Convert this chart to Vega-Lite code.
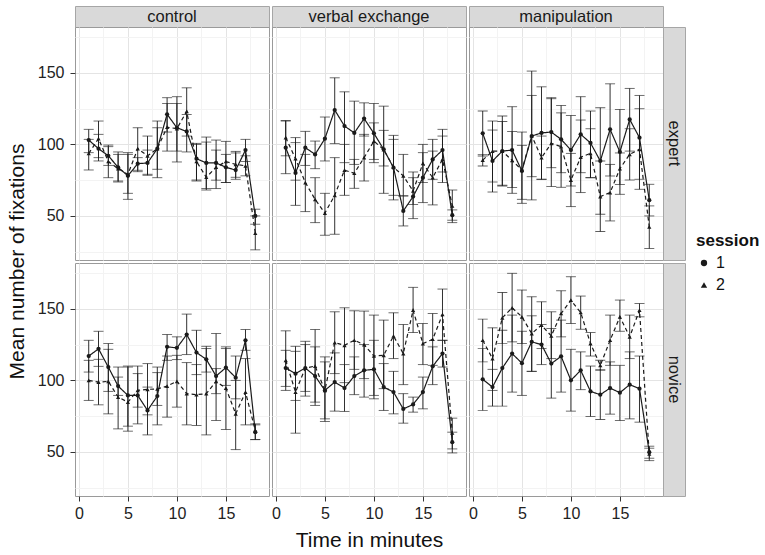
{
  "$schema": "https://vega.github.io/schema/vega-lite/v6.json",
  "background": "white",
  "padding": {"left": 5, "top": 5, "right": 5, "bottom": 5},
  "datasets": {
    "fixations": [
      {"cond":"control","level":"expert","session":"1","minute":1,"mean":103,"lo":94.2,"hi":110.5},
      {"cond":"control","level":"expert","session":"1","minute":2,"mean":97,"lo":88.4,"hi":107},
      {"cond":"control","level":"expert","session":"1","minute":3,"mean":92,"lo":85.3,"hi":98.4},
      {"cond":"control","level":"expert","session":"1","minute":4,"mean":84,"lo":74.4,"hi":93},
      {"cond":"control","level":"expert","session":"1","minute":5,"mean":78,"lo":65.8,"hi":94.2},
      {"cond":"control","level":"expert","session":"1","minute":6,"mean":86.5,"lo":80.9,"hi":90.7},
      {"cond":"control","level":"expert","session":"1","minute":7,"mean":87,"lo":78.4,"hi":96},
      {"cond":"control","level":"expert","session":"1","minute":8,"mean":97,"lo":82.6,"hi":111.6},
      {"cond":"control","level":"expert","session":"1","minute":9,"mean":121,"lo":108.6,"hi":132.6},
      {"cond":"control","level":"expert","session":"1","minute":10,"mean":111.6,"lo":87.7,"hi":133.3},
      {"cond":"control","level":"expert","session":"1","minute":11,"mean":109,"lo":94.7,"hi":120.9},
      {"cond":"control","level":"expert","session":"1","minute":12,"mean":90,"lo":74.4,"hi":100},
      {"cond":"control","level":"expert","session":"1","minute":13,"mean":87,"lo":69.1,"hi":105.1},
      {"cond":"control","level":"expert","session":"1","minute":14,"mean":87,"lo":69.1,"hi":103},
      {"cond":"control","level":"expert","session":"1","minute":15,"mean":84,"lo":73.3,"hi":93},
      {"cond":"control","level":"expert","session":"1","minute":16,"mean":82,"lo":75.6,"hi":95.1},
      {"cond":"control","level":"expert","session":"1","minute":17,"mean":96,"lo":88,"hi":103.5},
      {"cond":"control","level":"expert","session":"1","minute":18,"mean":50,"lo":44.2,"hi":54.7},
      {"cond":"control","level":"expert","session":"2","minute":1,"mean":93.7,"lo":82.1,"hi":103.5},
      {"cond":"control","level":"expert","session":"2","minute":2,"mean":104,"lo":90.7,"hi":116.3},
      {"cond":"control","level":"expert","session":"2","minute":3,"mean":88,"lo":76.7,"hi":99.5},
      {"cond":"control","level":"expert","session":"2","minute":4,"mean":83,"lo":73.7,"hi":94.7},
      {"cond":"control","level":"expert","session":"2","minute":5,"mean":79,"lo":61.6,"hi":93},
      {"cond":"control","level":"expert","session":"2","minute":6,"mean":97,"lo":81.9,"hi":111.6},
      {"cond":"control","level":"expert","session":"2","minute":7,"mean":92,"lo":79.1,"hi":105.8},
      {"cond":"control","level":"expert","session":"2","minute":8,"mean":97,"lo":76.7,"hi":116.3},
      {"cond":"control","level":"expert","session":"2","minute":9,"mean":112,"lo":95.3,"hi":128.6},
      {"cond":"control","level":"expert","session":"2","minute":10,"mean":111,"lo":95.3,"hi":128.6},
      {"cond":"control","level":"expert","session":"2","minute":11,"mean":123,"lo":105.8,"hi":139.5},
      {"cond":"control","level":"expert","session":"2","minute":12,"mean":88,"lo":75.1,"hi":100.7},
      {"cond":"control","level":"expert","session":"2","minute":13,"mean":77,"lo":68.1,"hi":101.6},
      {"cond":"control","level":"expert","session":"2","minute":14,"mean":84,"lo":75,"hi":96},
      {"cond":"control","level":"expert","session":"2","minute":15,"mean":88,"lo":73.3,"hi":102.1},
      {"cond":"control","level":"expert","session":"2","minute":16,"mean":86,"lo":77,"hi":94},
      {"cond":"control","level":"expert","session":"2","minute":17,"mean":85,"lo":78,"hi":92},
      {"cond":"control","level":"expert","session":"2","minute":18,"mean":38,"lo":26.3,"hi":50},
      {"cond":"verbal exchange","level":"expert","session":"1","minute":1,"mean":97.7,"lo":79.5,"hi":116.3},
      {"cond":"verbal exchange","level":"expert","session":"1","minute":2,"mean":80,"lo":57.4,"hi":101.2},
      {"cond":"verbal exchange","level":"expert","session":"1","minute":3,"mean":97.7,"lo":85.3,"hi":109.1},
      {"cond":"verbal exchange","level":"expert","session":"1","minute":4,"mean":93,"lo":83,"hi":102.3},
      {"cond":"verbal exchange","level":"expert","session":"1","minute":5,"mean":104,"lo":88.4,"hi":119.1},
      {"cond":"verbal exchange","level":"expert","session":"1","minute":6,"mean":124,"lo":100.5,"hi":146.5},
      {"cond":"verbal exchange","level":"expert","session":"1","minute":7,"mean":112.8,"lo":87.2,"hi":136.7},
      {"cond":"verbal exchange","level":"expert","session":"1","minute":8,"mean":108,"lo":86,"hi":130.2},
      {"cond":"verbal exchange","level":"expert","session":"1","minute":9,"mean":118,"lo":105.8,"hi":129},
      {"cond":"verbal exchange","level":"expert","session":"1","minute":10,"mean":107.7,"lo":87.2,"hi":128.6},
      {"cond":"verbal exchange","level":"expert","session":"1","minute":11,"mean":96.5,"lo":84.9,"hi":109.8},
      {"cond":"verbal exchange","level":"expert","session":"1","minute":12,"mean":83.7,"lo":64.4,"hi":103.5},
      {"cond":"verbal exchange","level":"expert","session":"1","minute":13,"mean":53.5,"lo":43,"hi":64},
      {"cond":"verbal exchange","level":"expert","session":"1","minute":14,"mean":63.5,"lo":48.1,"hi":80.7},
      {"cond":"verbal exchange","level":"expert","session":"1","minute":15,"mean":76.7,"lo":59.3,"hi":94.2},
      {"cond":"verbal exchange","level":"expert","session":"1","minute":16,"mean":89.5,"lo":75.6,"hi":103.5},
      {"cond":"verbal exchange","level":"expert","session":"1","minute":17,"mean":96,"lo":80.7,"hi":110.5},
      {"cond":"verbal exchange","level":"expert","session":"1","minute":18,"mean":50.5,"lo":47,"hi":54.2},
      {"cond":"verbal exchange","level":"expert","session":"2","minute":1,"mean":104.7,"lo":92,"hi":116.7},
      {"cond":"verbal exchange","level":"expert","session":"2","minute":2,"mean":90,"lo":75,"hi":104.7},
      {"cond":"verbal exchange","level":"expert","session":"2","minute":3,"mean":73.3,"lo":53,"hi":93},
      {"cond":"verbal exchange","level":"expert","session":"2","minute":4,"mean":61.6,"lo":45.3,"hi":76.7},
      {"cond":"verbal exchange","level":"expert","session":"2","minute":5,"mean":52,"lo":36.5,"hi":65.8},
      {"cond":"verbal exchange","level":"expert","session":"2","minute":6,"mean":64.4,"lo":37.2,"hi":90.7},
      {"cond":"verbal exchange","level":"expert","session":"2","minute":7,"mean":82,"lo":64.4,"hi":100},
      {"cond":"verbal exchange","level":"expert","session":"2","minute":8,"mean":79.8,"lo":69.3,"hi":89.5},
      {"cond":"verbal exchange","level":"expert","session":"2","minute":9,"mean":90.7,"lo":74.4,"hi":107},
      {"cond":"verbal exchange","level":"expert","session":"2","minute":10,"mean":102.3,"lo":89.5,"hi":115},
      {"cond":"verbal exchange","level":"expert","session":"2","minute":11,"mean":96.3,"lo":65.8,"hi":126.7},
      {"cond":"verbal exchange","level":"expert","session":"2","minute":12,"mean":84,"lo":61.2,"hi":106.3},
      {"cond":"verbal exchange","level":"expert","session":"2","minute":13,"mean":78,"lo":64,"hi":93},
      {"cond":"verbal exchange","level":"expert","session":"2","minute":14,"mean":67.4,"lo":58,"hi":76.7},
      {"cond":"verbal exchange","level":"expert","session":"2","minute":15,"mean":86.7,"lo":73.3,"hi":100},
      {"cond":"verbal exchange","level":"expert","session":"2","minute":16,"mean":76.7,"lo":57.7,"hi":95.3},
      {"cond":"verbal exchange","level":"expert","session":"2","minute":17,"mean":89.5,"lo":73.3,"hi":105.8},
      {"cond":"verbal exchange","level":"expert","session":"2","minute":18,"mean":57,"lo":45.3,"hi":68.1},
      {"cond":"manipulation","level":"expert","session":"1","minute":1,"mean":107.7,"lo":91.9,"hi":123.3},
      {"cond":"manipulation","level":"expert","session":"1","minute":2,"mean":88.4,"lo":66.7,"hi":110},
      {"cond":"manipulation","level":"expert","session":"1","minute":3,"mean":95.3,"lo":70.9,"hi":119.8},
      {"cond":"manipulation","level":"expert","session":"1","minute":4,"mean":96,"lo":65.8,"hi":126.3},
      {"cond":"manipulation","level":"expert","session":"1","minute":5,"mean":81.4,"lo":61.6,"hi":99.3},
      {"cond":"manipulation","level":"expert","session":"1","minute":6,"mean":105.8,"lo":77.4,"hi":134.2},
      {"cond":"manipulation","level":"expert","session":"1","minute":7,"mean":108,"lo":75.6,"hi":140.2},
      {"cond":"manipulation","level":"expert","session":"1","minute":8,"mean":108.6,"lo":83.7,"hi":132.6},
      {"cond":"manipulation","level":"expert","session":"1","minute":9,"mean":103.5,"lo":80.2,"hi":127.2},
      {"cond":"manipulation","level":"expert","session":"1","minute":10,"mean":96,"lo":70.9,"hi":120.2},
      {"cond":"manipulation","level":"expert","session":"1","minute":11,"mean":107,"lo":80.2,"hi":133.3},
      {"cond":"manipulation","level":"expert","session":"1","minute":12,"mean":101,"lo":76.7,"hi":123.3},
      {"cond":"manipulation","level":"expert","session":"1","minute":13,"mean":88.4,"lo":51.2,"hi":125.6},
      {"cond":"manipulation","level":"expert","session":"1","minute":14,"mean":110.5,"lo":77.9,"hi":142.3},
      {"cond":"manipulation","level":"expert","session":"1","minute":15,"mean":94.7,"lo":65.1,"hi":124.4},
      {"cond":"manipulation","level":"expert","session":"1","minute":16,"mean":117.4,"lo":95.3,"hi":139.1},
      {"cond":"manipulation","level":"expert","session":"1","minute":17,"mean":104.7,"lo":75.6,"hi":134.2},
      {"cond":"manipulation","level":"expert","session":"1","minute":18,"mean":61,"lo":50,"hi":72.1},
      {"cond":"manipulation","level":"expert","session":"2","minute":1,"mean":89,"lo":84.9,"hi":93},
      {"cond":"manipulation","level":"expert","session":"2","minute":2,"mean":95.3,"lo":73.7,"hi":116.3},
      {"cond":"manipulation","level":"expert","session":"2","minute":3,"mean":95.3,"lo":71.4,"hi":116},
      {"cond":"manipulation","level":"expert","session":"2","minute":4,"mean":88.8,"lo":69.8,"hi":109},
      {"cond":"manipulation","level":"expert","session":"2","minute":5,"mean":82,"lo":58.8,"hi":108.6},
      {"cond":"manipulation","level":"expert","session":"2","minute":6,"mean":106,"lo":61.2,"hi":151.2},
      {"cond":"manipulation","level":"expert","session":"2","minute":7,"mean":90.7,"lo":75.6,"hi":105.8},
      {"cond":"manipulation","level":"expert","session":"2","minute":8,"mean":100.7,"lo":70.5,"hi":131.9},
      {"cond":"manipulation","level":"expert","session":"2","minute":9,"mean":98.4,"lo":70,"hi":122},
      {"cond":"manipulation","level":"expert","session":"2","minute":10,"mean":75,"lo":56.5,"hi":93.7},
      {"cond":"manipulation","level":"expert","session":"2","minute":11,"mean":91,"lo":66.3,"hi":117},
      {"cond":"manipulation","level":"expert","session":"2","minute":12,"mean":93.7,"lo":76.7,"hi":110.9},
      {"cond":"manipulation","level":"expert","session":"2","minute":13,"mean":63.5,"lo":39.1,"hi":88.4},
      {"cond":"manipulation","level":"expert","session":"2","minute":14,"mean":66.3,"lo":46.5,"hi":86},
      {"cond":"manipulation","level":"expert","session":"2","minute":15,"mean":83,"lo":72,"hi":94},
      {"cond":"manipulation","level":"expert","session":"2","minute":16,"mean":93,"lo":75.1,"hi":110.9},
      {"cond":"manipulation","level":"expert","session":"2","minute":17,"mean":96.5,"lo":68.6,"hi":124.9},
      {"cond":"manipulation","level":"expert","session":"2","minute":18,"mean":42.3,"lo":27.2,"hi":57},
      {"cond":"control","level":"novice","session":"1","minute":1,"mean":117,"lo":105.8,"hi":128},
      {"cond":"control","level":"novice","session":"1","minute":2,"mean":122,"lo":109.8,"hi":134.3},
      {"cond":"control","level":"novice","session":"1","minute":3,"mean":109.3,"lo":92.3,"hi":125.7},
      {"cond":"control","level":"novice","session":"1","minute":4,"mean":96,"lo":89.5,"hi":102.3},
      {"cond":"control","level":"novice","session":"1","minute":5,"mean":89.5,"lo":68,"hi":110},
      {"cond":"control","level":"novice","session":"1","minute":6,"mean":89.5,"lo":69.6,"hi":110},
      {"cond":"control","level":"novice","session":"1","minute":7,"mean":79,"lo":61.9,"hi":95.3},
      {"cond":"control","level":"novice","session":"1","minute":8,"mean":89,"lo":68.9,"hi":109.3},
      {"cond":"control","level":"novice","session":"1","minute":9,"mean":123.4,"lo":114,"hi":132},
      {"cond":"control","level":"novice","session":"1","minute":10,"mean":122.7,"lo":114.5,"hi":130.4},
      {"cond":"control","level":"novice","session":"1","minute":11,"mean":132,"lo":118,"hi":146.3},
      {"cond":"control","level":"novice","session":"1","minute":12,"mean":119.4,"lo":104,"hi":135},
      {"cond":"control","level":"novice","session":"1","minute":13,"mean":114.7,"lo":105.8,"hi":123.8},
      {"cond":"control","level":"novice","session":"1","minute":14,"mean":103,"lo":72,"hi":132.7},
      {"cond":"control","level":"novice","session":"1","minute":15,"mean":108.9,"lo":96.5,"hi":122.2},
      {"cond":"control","level":"novice","session":"1","minute":16,"mean":101.9,"lo":87.1,"hi":117},
      {"cond":"control","level":"novice","session":"1","minute":17,"mean":128,"lo":121,"hi":135.5},
      {"cond":"control","level":"novice","session":"1","minute":18,"mean":63.8,"lo":58.6,"hi":68.9},
      {"cond":"control","level":"novice","session":"2","minute":1,"mean":100,"lo":86,"hi":114},
      {"cond":"control","level":"novice","session":"2","minute":2,"mean":98.8,"lo":82.9,"hi":114.7},
      {"cond":"control","level":"novice","session":"2","minute":3,"mean":99.3,"lo":76.6,"hi":121.7},
      {"cond":"control","level":"novice","session":"2","minute":4,"mean":88.3,"lo":66.1,"hi":109.3},
      {"cond":"control","level":"novice","session":"2","minute":5,"mean":84.8,"lo":64.5,"hi":109.3},
      {"cond":"control","level":"novice","session":"2","minute":6,"mean":93,"lo":81.3,"hi":104.7},
      {"cond":"control","level":"novice","session":"2","minute":7,"mean":93.7,"lo":75.9,"hi":111.7},
      {"cond":"control","level":"novice","session":"2","minute":8,"mean":94,"lo":82.5,"hi":105.4},
      {"cond":"control","level":"novice","session":"2","minute":9,"mean":96,"lo":74.3,"hi":117},
      {"cond":"control","level":"novice","session":"2","minute":10,"mean":99.3,"lo":81.3,"hi":117.5},
      {"cond":"control","level":"novice","session":"2","minute":11,"mean":90.7,"lo":68.9,"hi":112.4},
      {"cond":"control","level":"novice","session":"2","minute":12,"mean":90,"lo":68.5,"hi":111},
      {"cond":"control","level":"novice","session":"2","minute":13,"mean":90.7,"lo":61.9,"hi":122.2},
      {"cond":"control","level":"novice","session":"2","minute":14,"mean":99.3,"lo":90.7,"hi":108.2},
      {"cond":"control","level":"novice","session":"2","minute":15,"mean":94.6,"lo":65.7,"hi":123.4},
      {"cond":"control","level":"novice","session":"2","minute":16,"mean":76.6,"lo":51.6,"hi":100},
      {"cond":"control","level":"novice","session":"2","minute":17,"mean":91.8,"lo":68.9,"hi":115.2},
      {"cond":"control","level":"novice","session":"2","minute":18,"mean":65,"lo":58.6,"hi":69.6},
      {"cond":"verbal exchange","level":"novice","session":"1","minute":1,"mean":108.6,"lo":95.8,"hi":121},
      {"cond":"verbal exchange","level":"novice","session":"1","minute":2,"mean":104.7,"lo":86,"hi":123.8},
      {"cond":"verbal exchange","level":"novice","session":"1","minute":3,"mean":108.6,"lo":92.3,"hi":125},
      {"cond":"verbal exchange","level":"novice","session":"1","minute":4,"mean":103,"lo":82.5,"hi":123.4},
      {"cond":"verbal exchange","level":"novice","session":"1","minute":5,"mean":93,"lo":73.1,"hi":112.9},
      {"cond":"verbal exchange","level":"novice","session":"1","minute":6,"mean":98.8,"lo":78.5,"hi":119.2},
      {"cond":"verbal exchange","level":"novice","session":"1","minute":7,"mean":94.6,"lo":78.3,"hi":111},
      {"cond":"verbal exchange","level":"novice","session":"1","minute":8,"mean":103,"lo":90,"hi":116.4},
      {"cond":"verbal exchange","level":"novice","session":"1","minute":9,"mean":107,"lo":88.3,"hi":125},
      {"cond":"verbal exchange","level":"novice","session":"1","minute":10,"mean":107.7,"lo":87.1,"hi":128},
      {"cond":"verbal exchange","level":"novice","session":"1","minute":11,"mean":95.3,"lo":79,"hi":111.7},
      {"cond":"verbal exchange","level":"novice","session":"1","minute":12,"mean":91.8,"lo":76.6,"hi":106.3},
      {"cond":"verbal exchange","level":"novice","session":"1","minute":13,"mean":80,"lo":70.1,"hi":90.7},
      {"cond":"verbal exchange","level":"novice","session":"1","minute":14,"mean":83.2,"lo":77.8,"hi":88.3},
      {"cond":"verbal exchange","level":"novice","session":"1","minute":15,"mean":91.8,"lo":80.1,"hi":102.3},
      {"cond":"verbal exchange","level":"novice","session":"1","minute":16,"mean":109.8,"lo":97,"hi":123.4},
      {"cond":"verbal exchange","level":"novice","session":"1","minute":17,"mean":118.7,"lo":109.3,"hi":128},
      {"cond":"verbal exchange","level":"novice","session":"1","minute":18,"mean":56.8,"lo":49.3,"hi":63.8},
      {"cond":"verbal exchange","level":"novice","session":"2","minute":1,"mean":114,"lo":93,"hi":134.6},
      {"cond":"verbal exchange","level":"novice","session":"2","minute":2,"mean":91.8,"lo":63.1,"hi":120.3},
      {"cond":"verbal exchange","level":"novice","session":"2","minute":3,"mean":108.6,"lo":89,"hi":127.3},
      {"cond":"verbal exchange","level":"novice","session":"2","minute":4,"mean":110,"lo":84.8,"hi":135.5},
      {"cond":"verbal exchange","level":"novice","session":"2","minute":5,"mean":93,"lo":71.3,"hi":116.4},
      {"cond":"verbal exchange","level":"novice","session":"2","minute":6,"mean":126.4,"lo":104.7,"hi":147.9},
      {"cond":"verbal exchange","level":"novice","session":"2","minute":7,"mean":124.5,"lo":98.4,"hi":150.7},
      {"cond":"verbal exchange","level":"novice","session":"2","minute":8,"mean":128,"lo":107.7,"hi":148.6},
      {"cond":"verbal exchange","level":"novice","session":"2","minute":9,"mean":125,"lo":101.2,"hi":148.4},
      {"cond":"verbal exchange","level":"novice","session":"2","minute":10,"mean":117,"lo":89.5,"hi":145.6},
      {"cond":"verbal exchange","level":"novice","session":"2","minute":11,"mean":117.5,"lo":94.2,"hi":142.1},
      {"cond":"verbal exchange","level":"novice","session":"2","minute":12,"mean":131,"lo":115.2,"hi":147.2},
      {"cond":"verbal exchange","level":"novice","session":"2","minute":13,"mean":118.7,"lo":97,"hi":139},
      {"cond":"verbal exchange","level":"novice","session":"2","minute":14,"mean":149,"lo":133.4,"hi":165},
      {"cond":"verbal exchange","level":"novice","session":"2","minute":15,"mean":125.7,"lo":111,"hi":139.7},
      {"cond":"verbal exchange","level":"novice","session":"2","minute":16,"mean":128.7,"lo":110.5,"hi":146.7},
      {"cond":"verbal exchange","level":"novice","session":"2","minute":17,"mean":146,"lo":128,"hi":163.8},
      {"cond":"verbal exchange","level":"novice","session":"2","minute":18,"mean":63.3,"lo":52.1,"hi":73.6},
      {"cond":"manipulation","level":"novice","session":"1","minute":1,"mean":100.7,"lo":79,"hi":122.2},
      {"cond":"manipulation","level":"novice","session":"1","minute":2,"mean":95.3,"lo":82,"hi":107.7},
      {"cond":"manipulation","level":"novice","session":"1","minute":3,"mean":108.6,"lo":82,"hi":135},
      {"cond":"manipulation","level":"novice","session":"1","minute":4,"mean":118.7,"lo":91.8,"hi":145.6},
      {"cond":"manipulation","level":"novice","session":"1","minute":5,"mean":112,"lo":89.5,"hi":134.3},
      {"cond":"manipulation","level":"novice","session":"1","minute":6,"mean":126.9,"lo":106.3,"hi":145.1},
      {"cond":"manipulation","level":"novice","session":"1","minute":7,"mean":125,"lo":111,"hi":139},
      {"cond":"manipulation","level":"novice","session":"1","minute":8,"mean":111.7,"lo":87.6,"hi":136.2},
      {"cond":"manipulation","level":"novice","session":"1","minute":9,"mean":116.8,"lo":91.8,"hi":142.1},
      {"cond":"manipulation","level":"novice","session":"1","minute":10,"mean":100,"lo":78.5,"hi":121.7},
      {"cond":"manipulation","level":"novice","session":"1","minute":11,"mean":107,"lo":93.5,"hi":119.9},
      {"cond":"manipulation","level":"novice","session":"1","minute":12,"mean":92.3,"lo":74.8,"hi":110},
      {"cond":"manipulation","level":"novice","session":"1","minute":13,"mean":90,"lo":72.7,"hi":107.7},
      {"cond":"manipulation","level":"novice","session":"1","minute":14,"mean":94.6,"lo":76.4,"hi":112.9},
      {"cond":"manipulation","level":"novice","session":"1","minute":15,"mean":91.4,"lo":72,"hi":110.5},
      {"cond":"manipulation","level":"novice","session":"1","minute":16,"mean":97,"lo":73.1,"hi":119.9},
      {"cond":"manipulation","level":"novice","session":"1","minute":17,"mean":94.2,"lo":70.8,"hi":117},
      {"cond":"manipulation","level":"novice","session":"1","minute":18,"mean":49.8,"lo":45.6,"hi":54},
      {"cond":"manipulation","level":"novice","session":"2","minute":1,"mean":128,"lo":112.9,"hi":142.8},
      {"cond":"manipulation","level":"novice","session":"2","minute":2,"mean":115.2,"lo":93,"hi":136.7},
      {"cond":"manipulation","level":"novice","session":"2","minute":3,"mean":143.7,"lo":125.7,"hi":161.4},
      {"cond":"manipulation","level":"novice","session":"2","minute":4,"mean":150.7,"lo":126.9,"hi":174.8},
      {"cond":"manipulation","level":"novice","session":"2","minute":5,"mean":144.4,"lo":125.7,"hi":163.1},
      {"cond":"manipulation","level":"novice","session":"2","minute":6,"mean":132.7,"lo":106.3,"hi":158.4},
      {"cond":"manipulation","level":"novice","session":"2","minute":7,"mean":138.6,"lo":122.2,"hi":154.9},
      {"cond":"manipulation","level":"novice","session":"2","minute":8,"mean":131,"lo":115.2,"hi":147.9},
      {"cond":"manipulation","level":"novice","session":"2","minute":9,"mean":146.7,"lo":130.4,"hi":162.6},
      {"cond":"manipulation","level":"novice","session":"2","minute":10,"mean":156,"lo":139.7,"hi":172.4},
      {"cond":"manipulation","level":"novice","session":"2","minute":11,"mean":147.4,"lo":135.7,"hi":158.9},
      {"cond":"manipulation","level":"novice","session":"2","minute":12,"mean":125.7,"lo":117,"hi":133.4},
      {"cond":"manipulation","level":"novice","session":"2","minute":13,"mean":110.5,"lo":107,"hi":114},
      {"cond":"manipulation","level":"novice","session":"2","minute":14,"mean":128,"lo":110.5,"hi":145.6},
      {"cond":"manipulation","level":"novice","session":"2","minute":15,"mean":144.4,"lo":134.3,"hi":156.1},
      {"cond":"manipulation","level":"novice","session":"2","minute":16,"mean":130.4,"lo":115.2,"hi":145.6},
      {"cond":"manipulation","level":"novice","session":"2","minute":17,"mean":149,"lo":144.4,"hi":153.7},
      {"cond":"manipulation","level":"novice","session":"2","minute":18,"mean":48.6,"lo":43.9,"hi":52.6}
    ]
  },
  "config": {
    "font": "Liberation Sans",
    "view": {"stroke": "#9a9a9a"},
    "axis": {"domain": false, "labelFontSize": 16, "labelColor": "#222222", "titleFontSize": 21, "titleFontWeight": "normal", "titleColor": "#111111", "tickColor": "#333333", "tickSize": 5, "labelPadding": 4, "gridWidth": 1},
    "axisY": {"labelPadding": 6, "titlePadding": 10},
    "legend": {"orient": "none", "legendX": 621, "legendY": 227, "titleFontSize": 17, "titleFontWeight": "bold", "titleColor": "#111111", "labelFontSize": 16, "labelColor": "#111111", "symbolSize": 40, "rowPadding": 6, "titlePadding": 5}
  },
  "columns": 6,
  "spacing": 0,
  "align": "each",
  "bounds": "flush",
  "concat": [
    {"width": 194, "height": 21, "data": {"values": [{"label": "control"}]}, "mark": {"type": "text", "fontSize": 16.5, "color": "#1a1a1a"}, "encoding": {"text": {"field": "label"}}, "view": {"fill": "#d9d9d9", "stroke": "#a6a6a6"}},
    {"width": 3, "height": 3, "data": {"values": [{}]}, "mark": {"type": "point", "size": 1, "opacity": 0}, "view": {"stroke": null}},
    {"width": 194, "height": 21, "data": {"values": [{"label": "verbal exchange"}]}, "mark": {"type": "text", "fontSize": 16.5, "color": "#1a1a1a"}, "encoding": {"text": {"field": "label"}}, "view": {"fill": "#d9d9d9", "stroke": "#a6a6a6"}},
    {"width": 3, "height": 3, "data": {"values": [{}]}, "mark": {"type": "point", "size": 1, "opacity": 0}, "view": {"stroke": null}},
    {"width": 194, "height": 21, "data": {"values": [{"label": "manipulation"}]}, "mark": {"type": "text", "fontSize": 16.5, "color": "#1a1a1a"}, "encoding": {"text": {"field": "label"}}, "view": {"fill": "#d9d9d9", "stroke": "#a6a6a6"}},
    {"width": 3, "height": 3, "data": {"values": [{}]}, "mark": {"type": "point", "size": 1, "opacity": 0}, "view": {"stroke": null}},

    {"width": 194, "height": 233, "data": {"name": "fixations"},
     "transform": [{"filter": "datum.cond === 'control' && datum.level === 'expert'"}],
     "encoding": {
       "x": {"field": "minute", "type": "quantitative", "scale": {"domain": [-0.4, 19.4], "nice": false, "zero": false},
             "axis": {"values": [0, 2.5, 5, 7.5, 10, 12.5, 15, 17.5], "labels": false, "ticks": false, "title": null, "gridColor": {"condition": {"test": "datum.value % 5 === 0", "value": "#e4e4e4"}, "value": "#f3f3f3"}}},
       "y": {"field": "mean", "type": "quantitative", "scale": {"domain": [19.2, 182], "nice": false, "zero": false},
             "axis": {"values": [25, 50, 75, 100, 125, 150, 175], "labelOverlap": false, "labelExpr": "datum.value % 50 === 0 ? datum.label : ''", "tickOpacity": {"condition": {"test": "datum.value % 50 === 0", "value": 1}, "value": 0}, "gridColor": {"condition": {"test": "datum.value % 50 === 0", "value": "#e4e4e4"}, "value": "#f3f3f3"}, "title": "Mean number of fixations", "titleY": 234}}
     },
     "layer": [
       {"mark": {"type": "rule", "color": "#1a1a1a", "strokeWidth": 0.9}, "encoding": {"y": {"field": "lo", "type": "quantitative", "scale": {"domain": [19.2, 182], "nice": false, "zero": false}, "axis": {"values": [25, 50, 75, 100, 125, 150, 175], "labelOverlap": false, "labelExpr": "datum.value % 50 === 0 ? datum.label : ''", "tickOpacity": {"condition": {"test": "datum.value % 50 === 0", "value": 1}, "value": 0}, "gridColor": {"condition": {"test": "datum.value % 50 === 0", "value": "#e4e4e4"}, "value": "#f3f3f3"}, "title": "Mean number of fixations", "titleY": 234}}, "y2": {"field": "hi"}}},
       {"mark": {"type": "tick", "orient": "horizontal", "color": "#1a1a1a", "size": 10, "thickness": 0.9}, "encoding": {"y": {"field": "lo", "type": "quantitative", "scale": {"domain": [19.2, 182], "nice": false, "zero": false}, "axis": {"values": [25, 50, 75, 100, 125, 150, 175], "labelOverlap": false, "labelExpr": "datum.value % 50 === 0 ? datum.label : ''", "tickOpacity": {"condition": {"test": "datum.value % 50 === 0", "value": 1}, "value": 0}, "gridColor": {"condition": {"test": "datum.value % 50 === 0", "value": "#e4e4e4"}, "value": "#f3f3f3"}, "title": "Mean number of fixations", "titleY": 234}}}},
       {"mark": {"type": "tick", "orient": "horizontal", "color": "#1a1a1a", "size": 10, "thickness": 0.9}, "encoding": {"y": {"field": "hi", "type": "quantitative", "scale": {"domain": [19.2, 182], "nice": false, "zero": false}, "axis": {"values": [25, 50, 75, 100, 125, 150, 175], "labelOverlap": false, "labelExpr": "datum.value % 50 === 0 ? datum.label : ''", "tickOpacity": {"condition": {"test": "datum.value % 50 === 0", "value": 1}, "value": 0}, "gridColor": {"condition": {"test": "datum.value % 50 === 0", "value": "#e4e4e4"}, "value": "#f3f3f3"}, "title": "Mean number of fixations", "titleY": 234}}}},
       {"mark": {"type": "line", "color": "#1a1a1a", "strokeWidth": 1.2}, "encoding": {"strokeDash": {"field": "session", "type": "nominal", "scale": {"domain": ["1", "2"], "range": [[1, 0], [4, 3]]}, "legend": null}}},
       {"mark": {"type": "point", "filled": true, "color": "#1a1a1a", "size": 18, "opacity": 1}, "encoding": {"shape": {"field": "session", "type": "nominal", "scale": {"range": ["circle", "triangle-up"]}, "title": "session"}}}
     ]},
    {"width": 3, "height": 3, "data": {"values": [{}]}, "mark": {"type": "point", "size": 1, "opacity": 0}, "view": {"stroke": null}},
    {"width": 194, "height": 233, "data": {"name": "fixations"},
     "transform": [{"filter": "datum.cond === 'verbal exchange' && datum.level === 'expert'"}],
     "encoding": {
       "x": {"field": "minute", "type": "quantitative", "scale": {"domain": [-0.4, 19.4], "nice": false, "zero": false},
             "axis": {"values": [0, 2.5, 5, 7.5, 10, 12.5, 15, 17.5], "labels": false, "ticks": false, "title": null, "gridColor": {"condition": {"test": "datum.value % 5 === 0", "value": "#e4e4e4"}, "value": "#f3f3f3"}}},
       "y": {"field": "mean", "type": "quantitative", "scale": {"domain": [19.2, 182], "nice": false, "zero": false},
             "axis": {"values": [25, 50, 75, 100, 125, 150, 175], "labels": false, "ticks": false, "title": null, "gridColor": {"condition": {"test": "datum.value % 50 === 0", "value": "#e4e4e4"}, "value": "#f3f3f3"}}}
     },
     "layer": [
       {"mark": {"type": "rule", "color": "#1a1a1a", "strokeWidth": 0.9}, "encoding": {"y": {"field": "lo", "type": "quantitative", "scale": {"domain": [19.2, 182], "nice": false, "zero": false}, "axis": {"values": [25, 50, 75, 100, 125, 150, 175], "labels": false, "ticks": false, "title": null, "gridColor": {"condition": {"test": "datum.value % 50 === 0", "value": "#e4e4e4"}, "value": "#f3f3f3"}}}, "y2": {"field": "hi"}}},
       {"mark": {"type": "tick", "orient": "horizontal", "color": "#1a1a1a", "size": 10, "thickness": 0.9}, "encoding": {"y": {"field": "lo", "type": "quantitative", "scale": {"domain": [19.2, 182], "nice": false, "zero": false}, "axis": {"values": [25, 50, 75, 100, 125, 150, 175], "labels": false, "ticks": false, "title": null, "gridColor": {"condition": {"test": "datum.value % 50 === 0", "value": "#e4e4e4"}, "value": "#f3f3f3"}}}}},
       {"mark": {"type": "tick", "orient": "horizontal", "color": "#1a1a1a", "size": 10, "thickness": 0.9}, "encoding": {"y": {"field": "hi", "type": "quantitative", "scale": {"domain": [19.2, 182], "nice": false, "zero": false}, "axis": {"values": [25, 50, 75, 100, 125, 150, 175], "labels": false, "ticks": false, "title": null, "gridColor": {"condition": {"test": "datum.value % 50 === 0", "value": "#e4e4e4"}, "value": "#f3f3f3"}}}}},
       {"mark": {"type": "line", "color": "#1a1a1a", "strokeWidth": 1.2}, "encoding": {"strokeDash": {"field": "session", "type": "nominal", "scale": {"domain": ["1", "2"], "range": [[1, 0], [4, 3]]}, "legend": null}}},
       {"mark": {"type": "point", "filled": true, "color": "#1a1a1a", "size": 18, "opacity": 1}, "encoding": {"shape": {"field": "session", "type": "nominal", "scale": {"range": ["circle", "triangle-up"]}, "title": "session"}}}
     ]},
    {"width": 3, "height": 3, "data": {"values": [{}]}, "mark": {"type": "point", "size": 1, "opacity": 0}, "view": {"stroke": null}},
    {"width": 194, "height": 233, "data": {"name": "fixations"},
     "transform": [{"filter": "datum.cond === 'manipulation' && datum.level === 'expert'"}],
     "encoding": {
       "x": {"field": "minute", "type": "quantitative", "scale": {"domain": [-0.4, 19.4], "nice": false, "zero": false},
             "axis": {"values": [0, 2.5, 5, 7.5, 10, 12.5, 15, 17.5], "labels": false, "ticks": false, "title": null, "gridColor": {"condition": {"test": "datum.value % 5 === 0", "value": "#e4e4e4"}, "value": "#f3f3f3"}}},
       "y": {"field": "mean", "type": "quantitative", "scale": {"domain": [19.2, 182], "nice": false, "zero": false},
             "axis": {"values": [25, 50, 75, 100, 125, 150, 175], "labels": false, "ticks": false, "title": null, "gridColor": {"condition": {"test": "datum.value % 50 === 0", "value": "#e4e4e4"}, "value": "#f3f3f3"}}}
     },
     "layer": [
       {"mark": {"type": "rule", "color": "#1a1a1a", "strokeWidth": 0.9}, "encoding": {"y": {"field": "lo", "type": "quantitative", "scale": {"domain": [19.2, 182], "nice": false, "zero": false}, "axis": {"values": [25, 50, 75, 100, 125, 150, 175], "labels": false, "ticks": false, "title": null, "gridColor": {"condition": {"test": "datum.value % 50 === 0", "value": "#e4e4e4"}, "value": "#f3f3f3"}}}, "y2": {"field": "hi"}}},
       {"mark": {"type": "tick", "orient": "horizontal", "color": "#1a1a1a", "size": 10, "thickness": 0.9}, "encoding": {"y": {"field": "lo", "type": "quantitative", "scale": {"domain": [19.2, 182], "nice": false, "zero": false}, "axis": {"values": [25, 50, 75, 100, 125, 150, 175], "labels": false, "ticks": false, "title": null, "gridColor": {"condition": {"test": "datum.value % 50 === 0", "value": "#e4e4e4"}, "value": "#f3f3f3"}}}}},
       {"mark": {"type": "tick", "orient": "horizontal", "color": "#1a1a1a", "size": 10, "thickness": 0.9}, "encoding": {"y": {"field": "hi", "type": "quantitative", "scale": {"domain": [19.2, 182], "nice": false, "zero": false}, "axis": {"values": [25, 50, 75, 100, 125, 150, 175], "labels": false, "ticks": false, "title": null, "gridColor": {"condition": {"test": "datum.value % 50 === 0", "value": "#e4e4e4"}, "value": "#f3f3f3"}}}}},
       {"mark": {"type": "line", "color": "#1a1a1a", "strokeWidth": 1.2}, "encoding": {"strokeDash": {"field": "session", "type": "nominal", "scale": {"domain": ["1", "2"], "range": [[1, 0], [4, 3]]}, "legend": null}}},
       {"mark": {"type": "point", "filled": true, "color": "#1a1a1a", "size": 18, "opacity": 1}, "encoding": {"shape": {"field": "session", "type": "nominal", "scale": {"range": ["circle", "triangle-up"]}, "title": "session"}}}
     ]},
    {"width": 22, "height": 233, "data": {"values": [{"label": "expert"}]}, "mark": {"type": "text", "angle": 90, "fontSize": 16.5, "color": "#1a1a1a"}, "encoding": {"text": {"field": "label"}}, "view": {"fill": "#d9d9d9", "stroke": "#a6a6a6"}},

    {"width": 3, "height": 3, "data": {"values": [{}]}, "mark": {"type": "point", "size": 1, "opacity": 0}, "view": {"stroke": null}},
    {"width": 3, "height": 3, "data": {"values": [{}]}, "mark": {"type": "point", "size": 1, "opacity": 0}, "view": {"stroke": null}},
    {"width": 3, "height": 3, "data": {"values": [{}]}, "mark": {"type": "point", "size": 1, "opacity": 0}, "view": {"stroke": null}},
    {"width": 3, "height": 3, "data": {"values": [{}]}, "mark": {"type": "point", "size": 1, "opacity": 0}, "view": {"stroke": null}},
    {"width": 3, "height": 3, "data": {"values": [{}]}, "mark": {"type": "point", "size": 1, "opacity": 0}, "view": {"stroke": null}},
    {"width": 3, "height": 3, "data": {"values": [{}]}, "mark": {"type": "point", "size": 1, "opacity": 0}, "view": {"stroke": null}},

    {"width": 194, "height": 233, "data": {"name": "fixations"},
     "transform": [{"filter": "datum.cond === 'control' && datum.level === 'novice'"}],
     "encoding": {
       "x": {"field": "minute", "type": "quantitative", "scale": {"domain": [-0.4, 19.4], "nice": false, "zero": false},
             "axis": {"values": [0, 2.5, 5, 7.5, 10, 12.5, 15, 17.5], "labelOverlap": false, "labelExpr": "datum.value % 5 === 0 ? datum.label : ''", "tickOpacity": {"condition": {"test": "datum.value % 5 === 0", "value": 1}, "value": 0}, "title": null, "gridColor": {"condition": {"test": "datum.value % 5 === 0", "value": "#e4e4e4"}, "value": "#f3f3f3"}}},
       "y": {"field": "mean", "type": "quantitative", "scale": {"domain": [19.2, 182], "nice": false, "zero": false},
             "axis": {"values": [25, 50, 75, 100, 125, 150, 175], "labelOverlap": false, "labelExpr": "datum.value % 50 === 0 ? datum.label : ''", "tickOpacity": {"condition": {"test": "datum.value % 50 === 0", "value": 1}, "value": 0}, "gridColor": {"condition": {"test": "datum.value % 50 === 0", "value": "#e4e4e4"}, "value": "#f3f3f3"}, "title": null}}
     },
     "layer": [
       {"mark": {"type": "rule", "color": "#1a1a1a", "strokeWidth": 0.9}, "encoding": {"y": {"field": "lo", "type": "quantitative", "scale": {"domain": [19.2, 182], "nice": false, "zero": false}, "axis": {"values": [25, 50, 75, 100, 125, 150, 175], "labelOverlap": false, "labelExpr": "datum.value % 50 === 0 ? datum.label : ''", "tickOpacity": {"condition": {"test": "datum.value % 50 === 0", "value": 1}, "value": 0}, "gridColor": {"condition": {"test": "datum.value % 50 === 0", "value": "#e4e4e4"}, "value": "#f3f3f3"}, "title": null}}, "y2": {"field": "hi"}}},
       {"mark": {"type": "tick", "orient": "horizontal", "color": "#1a1a1a", "size": 10, "thickness": 0.9}, "encoding": {"y": {"field": "lo", "type": "quantitative", "scale": {"domain": [19.2, 182], "nice": false, "zero": false}, "axis": {"values": [25, 50, 75, 100, 125, 150, 175], "labelOverlap": false, "labelExpr": "datum.value % 50 === 0 ? datum.label : ''", "tickOpacity": {"condition": {"test": "datum.value % 50 === 0", "value": 1}, "value": 0}, "gridColor": {"condition": {"test": "datum.value % 50 === 0", "value": "#e4e4e4"}, "value": "#f3f3f3"}, "title": null}}}},
       {"mark": {"type": "tick", "orient": "horizontal", "color": "#1a1a1a", "size": 10, "thickness": 0.9}, "encoding": {"y": {"field": "hi", "type": "quantitative", "scale": {"domain": [19.2, 182], "nice": false, "zero": false}, "axis": {"values": [25, 50, 75, 100, 125, 150, 175], "labelOverlap": false, "labelExpr": "datum.value % 50 === 0 ? datum.label : ''", "tickOpacity": {"condition": {"test": "datum.value % 50 === 0", "value": 1}, "value": 0}, "gridColor": {"condition": {"test": "datum.value % 50 === 0", "value": "#e4e4e4"}, "value": "#f3f3f3"}, "title": null}}}},
       {"mark": {"type": "line", "color": "#1a1a1a", "strokeWidth": 1.2}, "encoding": {"strokeDash": {"field": "session", "type": "nominal", "scale": {"domain": ["1", "2"], "range": [[1, 0], [4, 3]]}, "legend": null}}},
       {"mark": {"type": "point", "filled": true, "color": "#1a1a1a", "size": 18, "opacity": 1}, "encoding": {"shape": {"field": "session", "type": "nominal", "scale": {"range": ["circle", "triangle-up"]}, "title": "session"}}}
     ]},
    {"width": 3, "height": 3, "data": {"values": [{}]}, "mark": {"type": "point", "size": 1, "opacity": 0}, "view": {"stroke": null}},
    {"width": 194, "height": 233, "data": {"name": "fixations"},
     "transform": [{"filter": "datum.cond === 'verbal exchange' && datum.level === 'novice'"}],
     "encoding": {
       "x": {"field": "minute", "type": "quantitative", "scale": {"domain": [-0.4, 19.4], "nice": false, "zero": false},
             "axis": {"values": [0, 2.5, 5, 7.5, 10, 12.5, 15, 17.5], "labelOverlap": false, "labelExpr": "datum.value % 5 === 0 ? datum.label : ''", "tickOpacity": {"condition": {"test": "datum.value % 5 === 0", "value": 1}, "value": 0}, "title": "Time in minutes", "titlePadding": 8, "gridColor": {"condition": {"test": "datum.value % 5 === 0", "value": "#e4e4e4"}, "value": "#f3f3f3"}}},
       "y": {"field": "mean", "type": "quantitative", "scale": {"domain": [19.2, 182], "nice": false, "zero": false},
             "axis": {"values": [25, 50, 75, 100, 125, 150, 175], "labels": false, "ticks": false, "title": null, "gridColor": {"condition": {"test": "datum.value % 50 === 0", "value": "#e4e4e4"}, "value": "#f3f3f3"}}}
     },
     "layer": [
       {"mark": {"type": "rule", "color": "#1a1a1a", "strokeWidth": 0.9}, "encoding": {"y": {"field": "lo", "type": "quantitative", "scale": {"domain": [19.2, 182], "nice": false, "zero": false}, "axis": {"values": [25, 50, 75, 100, 125, 150, 175], "labels": false, "ticks": false, "title": null, "gridColor": {"condition": {"test": "datum.value % 50 === 0", "value": "#e4e4e4"}, "value": "#f3f3f3"}}}, "y2": {"field": "hi"}}},
       {"mark": {"type": "tick", "orient": "horizontal", "color": "#1a1a1a", "size": 10, "thickness": 0.9}, "encoding": {"y": {"field": "lo", "type": "quantitative", "scale": {"domain": [19.2, 182], "nice": false, "zero": false}, "axis": {"values": [25, 50, 75, 100, 125, 150, 175], "labels": false, "ticks": false, "title": null, "gridColor": {"condition": {"test": "datum.value % 50 === 0", "value": "#e4e4e4"}, "value": "#f3f3f3"}}}}},
       {"mark": {"type": "tick", "orient": "horizontal", "color": "#1a1a1a", "size": 10, "thickness": 0.9}, "encoding": {"y": {"field": "hi", "type": "quantitative", "scale": {"domain": [19.2, 182], "nice": false, "zero": false}, "axis": {"values": [25, 50, 75, 100, 125, 150, 175], "labels": false, "ticks": false, "title": null, "gridColor": {"condition": {"test": "datum.value % 50 === 0", "value": "#e4e4e4"}, "value": "#f3f3f3"}}}}},
       {"mark": {"type": "line", "color": "#1a1a1a", "strokeWidth": 1.2}, "encoding": {"strokeDash": {"field": "session", "type": "nominal", "scale": {"domain": ["1", "2"], "range": [[1, 0], [4, 3]]}, "legend": null}}},
       {"mark": {"type": "point", "filled": true, "color": "#1a1a1a", "size": 18, "opacity": 1}, "encoding": {"shape": {"field": "session", "type": "nominal", "scale": {"range": ["circle", "triangle-up"]}, "title": "session"}}}
     ]},
    {"width": 3, "height": 3, "data": {"values": [{}]}, "mark": {"type": "point", "size": 1, "opacity": 0}, "view": {"stroke": null}},
    {"width": 194, "height": 233, "data": {"name": "fixations"},
     "transform": [{"filter": "datum.cond === 'manipulation' && datum.level === 'novice'"}],
     "encoding": {
       "x": {"field": "minute", "type": "quantitative", "scale": {"domain": [-0.4, 19.4], "nice": false, "zero": false},
             "axis": {"values": [0, 2.5, 5, 7.5, 10, 12.5, 15, 17.5], "labelOverlap": false, "labelExpr": "datum.value % 5 === 0 ? datum.label : ''", "tickOpacity": {"condition": {"test": "datum.value % 5 === 0", "value": 1}, "value": 0}, "title": null, "gridColor": {"condition": {"test": "datum.value % 5 === 0", "value": "#e4e4e4"}, "value": "#f3f3f3"}}},
       "y": {"field": "mean", "type": "quantitative", "scale": {"domain": [19.2, 182], "nice": false, "zero": false},
             "axis": {"values": [25, 50, 75, 100, 125, 150, 175], "labels": false, "ticks": false, "title": null, "gridColor": {"condition": {"test": "datum.value % 50 === 0", "value": "#e4e4e4"}, "value": "#f3f3f3"}}}
     },
     "layer": [
       {"mark": {"type": "rule", "color": "#1a1a1a", "strokeWidth": 0.9}, "encoding": {"y": {"field": "lo", "type": "quantitative", "scale": {"domain": [19.2, 182], "nice": false, "zero": false}, "axis": {"values": [25, 50, 75, 100, 125, 150, 175], "labels": false, "ticks": false, "title": null, "gridColor": {"condition": {"test": "datum.value % 50 === 0", "value": "#e4e4e4"}, "value": "#f3f3f3"}}}, "y2": {"field": "hi"}}},
       {"mark": {"type": "tick", "orient": "horizontal", "color": "#1a1a1a", "size": 10, "thickness": 0.9}, "encoding": {"y": {"field": "lo", "type": "quantitative", "scale": {"domain": [19.2, 182], "nice": false, "zero": false}, "axis": {"values": [25, 50, 75, 100, 125, 150, 175], "labels": false, "ticks": false, "title": null, "gridColor": {"condition": {"test": "datum.value % 50 === 0", "value": "#e4e4e4"}, "value": "#f3f3f3"}}}}},
       {"mark": {"type": "tick", "orient": "horizontal", "color": "#1a1a1a", "size": 10, "thickness": 0.9}, "encoding": {"y": {"field": "hi", "type": "quantitative", "scale": {"domain": [19.2, 182], "nice": false, "zero": false}, "axis": {"values": [25, 50, 75, 100, 125, 150, 175], "labels": false, "ticks": false, "title": null, "gridColor": {"condition": {"test": "datum.value % 50 === 0", "value": "#e4e4e4"}, "value": "#f3f3f3"}}}}},
       {"mark": {"type": "line", "color": "#1a1a1a", "strokeWidth": 1.2}, "encoding": {"strokeDash": {"field": "session", "type": "nominal", "scale": {"domain": ["1", "2"], "range": [[1, 0], [4, 3]]}, "legend": null}}},
       {"mark": {"type": "point", "filled": true, "color": "#1a1a1a", "size": 18, "opacity": 1}, "encoding": {"shape": {"field": "session", "type": "nominal", "scale": {"range": ["circle", "triangle-up"]}, "title": "session"}}}
     ]},
    {"width": 22, "height": 233, "data": {"values": [{"label": "novice"}]}, "mark": {"type": "text", "angle": 90, "fontSize": 16.5, "color": "#1a1a1a"}, "encoding": {"text": {"field": "label"}}, "view": {"fill": "#d9d9d9", "stroke": "#a6a6a6"}}
  ]
}
